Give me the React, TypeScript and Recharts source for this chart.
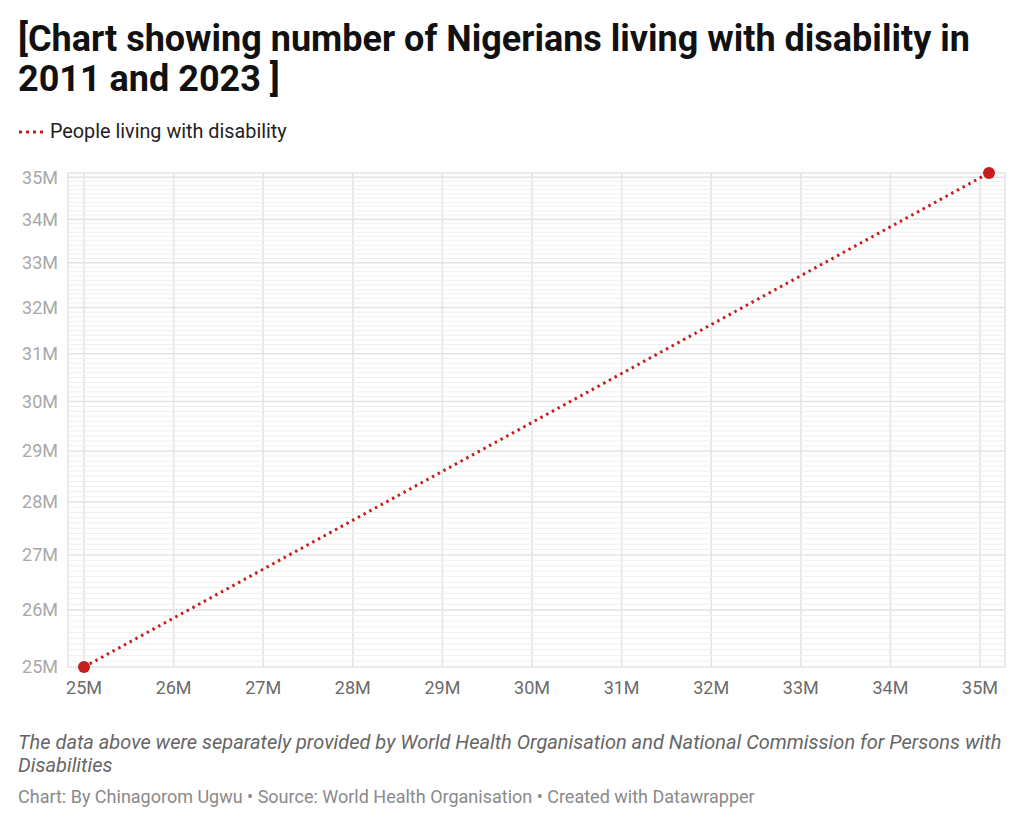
import React from "react";
import {
  CartesianGrid,
  Line,
  LineChart,
  ReferenceLine,
  XAxis,
  YAxis,
} from "recharts";

// Two observations (2011 and 2023); Datawrapper plotted the count on both axes
const years = ["2011", "2023"];
const xValues = [25_000_000, 35_100_000];
const yValues = [25_000_000, 35_100_000];

const xTicks = [25, 26, 27, 28, 29, 30, 31, 32, 33, 34, 35].map((m) => m * 1e6);
const yTicks = [25, 26, 27, 28, 29, 30, 31, 32, 33, 34, 35].map((m) => m * 1e6);
// light minor grid every 0.1M between the labelled ticks
const yMinorTicks = Array.from({ length: 101 }, (_, i) => 25e6 + i * 1e5).filter(
  (_, i) => i % 10 !== 0
);

const chartData = years.map((year, i) => ({
  year,
  x: xValues[i],
  y: yValues[i],
}));

const RED = "#c71e1d";
const fmt = (v: number) => `${Math.round(v / 1e6)}M`;

export default function App() {
  return (
    <div
      style={{
        position: "absolute",
        left: 0,
        top: 0,
        width: 1024,
        height: 828,
        background: "#fff",
        fontFamily: "Roboto, sans-serif",
        overflow: "hidden",
      }}
    >
      <div
        style={{
          position: "absolute",
          left: 18,
          top: 19,
          fontSize: 36,
          fontWeight: 700,
          lineHeight: "40px",
          color: "#111",
          whiteSpace: "nowrap",
        }}
      >
        [Chart showing number of Nigerians living with disability in
        <br />
        2011 and 2023 ]
      </div>

      <div
        style={{
          position: "absolute",
          left: 18,
          top: 120,
          display: "flex",
          alignItems: "center",
          fontSize: 19.8,
          color: "#222",
        }}
      >
        <svg width={28} height={6} style={{ marginRight: 4 }}>
          <line
            x1={1}
            y1={3}
            x2={27}
            y2={3}
            stroke={RED}
            strokeWidth={3}
            strokeDasharray="3 4"
          />
        </svg>
        People living with disability
      </div>

      <div style={{ position: "absolute", left: 0, top: 150 }}>
        <LineChart
          width={1024}
          height={557}
          data={chartData}
          margin={{ top: 23, right: 19, bottom: 0, left: 0 }}
        >
          <CartesianGrid
            horizontal={true}
            vertical={true}
            stroke="#e3e3e3"
            strokeWidth={1.5}
          />
          {yMinorTicks.map((v) => (
            <ReferenceLine
              key={v}
              y={v}
              stroke="#efefef"
              strokeWidth={1}
            />
          ))}
          <XAxis
            dataKey="x"
            type="number"
            domain={[25e6, 35.1e6]}
            ticks={xTicks}
            tickFormatter={fmt}
            padding={{ left: 16, right: 16 }}
            axisLine={false}
            tickLine={false}
            tickMargin={8}
            height={40}
            tick={{ fill: "#6b6b6b", fontSize: 18 }}
          />
          <YAxis
            type="number"
            scale="log"
            domain={[25e6, 35.1e6]}
            ticks={yTicks}
            interval={0}
            tickFormatter={fmt}
            axisLine={false}
            tickLine={false}
            tickMargin={4}
            width={68}
            tick={{ fill: "#a8a8a8", fontSize: 18 }}
          />
          <Line
            dataKey="y"
            stroke={RED}
            strokeWidth={3}
            strokeDasharray="2.5 4"
            dot={{ r: 6, fill: RED, stroke: RED, strokeWidth: 0 }}
            activeDot={false}
            isAnimationActive={false}
          />
        </LineChart>
      </div>

      <div
        style={{
          position: "absolute",
          left: 18,
          top: 731,
          fontSize: 20,
          fontStyle: "italic",
          lineHeight: "23px",
          color: "#666",
          whiteSpace: "nowrap",
        }}
      >
        The data above were separately provided by World Health Organisation and
        National Commission for Persons with
        <br />
        Disabilities
      </div>

      <div
        style={{
          position: "absolute",
          left: 18,
          top: 786,
          fontSize: 18,
          color: "#8a8a8a",
          whiteSpace: "nowrap",
        }}
      >
        Chart: By Chinagorom Ugwu • Source: World Health Organisation • Created
        with Datawrapper
      </div>
    </div>
  );
}
